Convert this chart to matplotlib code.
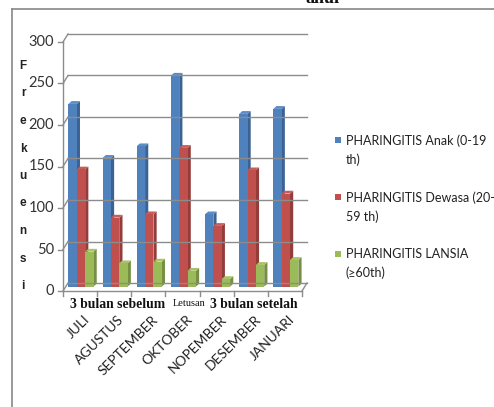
import matplotlib
matplotlib.use("Agg")
import matplotlib.pyplot as plt
from matplotlib.patches import Polygon, Rectangle

# Monthly pharyngitis cases by age group
months = ["JULI", "AGUSTUS", "SEPTEMBER", "OKTOBER", "NOPEMBER", "DESEMBER", "JANUARI"]
anak = [220, 155, 169, 254, 87, 208, 214]
dewasa = [141, 83, 87, 167, 73, 140, 112]
lansia = [42, 28, 30, 19, 9, 26, 32]
series_labels = ["PHARINGITIS Anak (0-19\nth)", "PHARINGITIS Dewasa (20-\n59 th)", "PHARINGITIS LANSIA\n(\u226560th)"]
y_ticks = [0, 50, 100, 150, 200, 250, 300]

face_colors = ["#4F81BD", "#C0504D", "#9BBB59"]
side_colors = ["#3A6394", "#943C3A", "#768F42"]
top_colors = ["#5B8CC8", "#C95D5A", "#A6C466"]
grid_c = "#8C8C8C"

W, H = 494, 407
fig = plt.figure(figsize=(W / 100, H / 100), dpi=100)

# front plane of the 3D box in pixels
x0_px, x1_px = 63, 302
y0_px, y1_px = 291, 42
ax = fig.add_axes([x0_px / W, (H - y0_px) / H, (x1_px - x0_px) / W, (y0_px - y1_px) / H])
ax.set_xlim(0, len(months))
ax.set_ylim(0, 300)
ax.axis("off")

ux = (x1_px - x0_px) / len(months)   # px per category
uy = (y0_px - y1_px) / 300.0         # px per value unit
DXw, DYw = 5 / ux, 8 / uy            # wall depth
bx, by = 2.5 / ux, 4.5 / uy          # bar placement inside depth
bdx, bdy = 3.2 / ux, 2.8 / uy        # bar depth
n = len(months)

# back wall gridlines and left wall diagonals
for v in y_ticks:
    ax.plot([DXw, n + DXw], [v + DYw, v + DYw], color=grid_c, lw=1.0, clip_on=False)
    ax.plot([0, DXw], [v, v + DYw], color=grid_c, lw=1.0, clip_on=False)
    ax.plot([-5 / ux, 0], [v, v], color=grid_c, lw=1.0, clip_on=False)
    ax.text(-9 / ux, v, str(v), ha="right", va="center", fontsize=10.5,
            family="Lato", color="#333333", clip_on=False)
ax.plot([0, 0], [0, 300], color=grid_c, lw=1.0, clip_on=False)

# floor
ax.plot([0, n], [0, 0], color=grid_c, lw=1.0, clip_on=False)
ax.plot([n, n + DXw], [0, DYw], color=grid_c, lw=1.0, clip_on=False)
for i in range(n + 1):
    ax.plot([i, i], [0, -5 / uy], color=grid_c, lw=1.0, clip_on=False)

# bars
bw = 0.245
group = 3 * bw + bdx
start = (1 - group) / 2
for i in range(n):
    for s, vals in enumerate([anak, dewasa, lansia]):
        v = vals[i]
        xl = i + start + s * bw + bx
        xr = xl + bw
        yb = by
        yt = by + v
        side = Polygon([(xr, yb), (xr + bdx, yb + bdy), (xr + bdx, yt + bdy), (xr, yt)],
                       closed=True, facecolor=side_colors[s], edgecolor="none", clip_on=False)
        top = Polygon([(xl, yt), (xl + bdx, yt + bdy), (xr + bdx, yt + bdy), (xr, yt)],
                      closed=True, facecolor=top_colors[s], edgecolor="none", clip_on=False)
        face = Rectangle((xl, yb), bw, v, facecolor=face_colors[s], edgecolor="none", clip_on=False)
        ax.add_patch(side)
        ax.add_patch(top)
        ax.add_patch(face)

# rotated month labels
for i, m in enumerate(months):
    ax.text(i + 0.6, -27, m, rotation=45, rotation_mode="anchor", ha="right", va="top",
            fontsize=10, family="Lato", color="#222222", clip_on=False)

# period annotations
def px(x, y):
    return x / W, 1 - y / H

fig.text(*px(118, 304), "3 bulan sebelum", ha="center", va="center", fontsize=9.8,
         family="Liberation Serif", fontweight="bold", color="#111111")
fig.text(*px(189, 303), "Letusan", ha="center", va="center", fontsize=7.5,
         family="Liberation Serif", color="#111111")
fig.text(*px(254, 304), "3 bulan setelah", ha="center", va="center", fontsize=9.8,
         family="Liberation Serif", fontweight="bold", color="#111111")

# stacked y-axis title
for k, ch in enumerate("Frekuensi"):
    fig.text(*px(23, 66 + 27.5 * k), ch, ha="center", va="center", fontsize=8.5,
             family="Liberation Sans", fontweight="bold", color="#222222")

# legend
for s, lab in enumerate(series_labels):
    ly = 142 + 57 * s
    fig.patches.append(Rectangle(px(335, ly + 1), 6 / W, 6 / H, transform=fig.transFigure,
                                 facecolor=face_colors[s], edgecolor="none"))
    fig.text(*px(346, ly - 8), lab, ha="left", va="top", fontsize=9, family="Lato",
             color="#222222", linespacing=1.65)

# outer frame and clipped heading above
fig.add_artist(plt.Line2D([12 / W, 12 / W], [0, 1 - 9 / H], color="#888888", lw=1.2,
                          transform=fig.transFigure))
fig.add_artist(plt.Line2D([12 / W, 1], [1 - 9 / H, 1 - 9 / H], color="#888888", lw=1.2,
                          transform=fig.transFigure))
fig.text(*px(322, 3), "ahui", ha="center", va="baseline", fontsize=13,
         family="Liberation Serif", fontweight="bold", color="#111111")

fig.savefig("out.png", dpi=100, facecolor="white")
